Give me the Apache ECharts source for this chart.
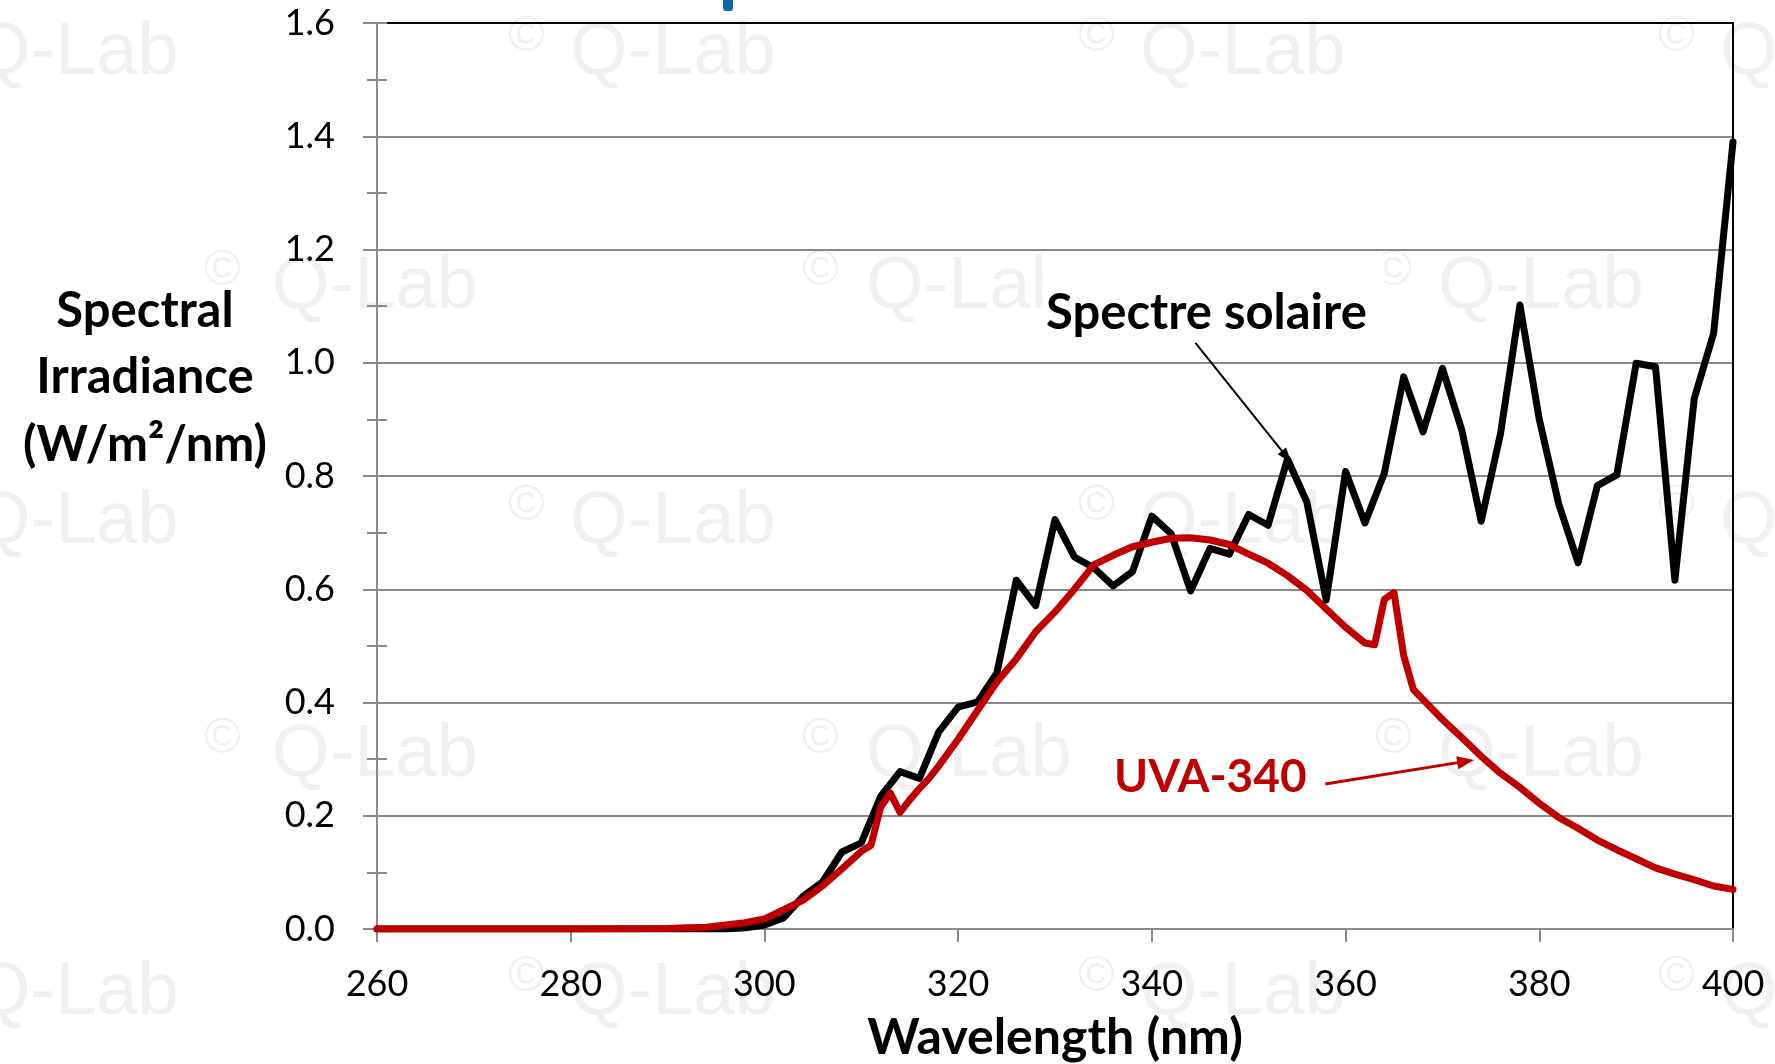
<!DOCTYPE html>
<html>
<head>
<meta charset="utf-8">
<script src="https://cdn.jsdelivr.net/npm/echarts@6/dist/echarts.min.js"></script>
<style>
html,body{margin:0;padding:0;background:#ffffff;}
#chart{width:1775px;height:1064px;}
</style>
</head>
<body>
<div id="chart"></div>
<script>
// ---- Data ----
const solarWavelengths = [260, 270, 280, 290, 294, 296, 298, 300, 302, 304, 306, 308, 310, 312, 314, 316, 318, 320, 322, 324, 326, 328, 330, 332, 334, 336, 338, 340, 342, 344, 346, 348, 350, 352, 354, 356, 358, 360, 362, 364, 366, 368, 370, 372, 374, 376, 378, 380, 382, 384, 386, 388, 390, 392, 394, 396, 398, 400];
const solarIrradiance = [0, 0, 0, 0, 0, 0.000, 0.002, 0.007, 0.020, 0.058, 0.083, 0.136, 0.152, 0.234, 0.278, 0.266, 0.348, 0.392, 0.401, 0.452, 0.616, 0.571, 0.723, 0.657, 0.638, 0.606, 0.631, 0.729, 0.698, 0.597, 0.672, 0.662, 0.732, 0.713, 0.830, 0.754, 0.581, 0.808, 0.717, 0.805, 0.975, 0.878, 0.990, 0.881, 0.720, 0.875, 1.102, 0.900, 0.751, 0.647, 0.783, 0.802, 0.999, 0.993, 0.616, 0.937, 1.052, 1.390];

const uvaWavelengths = [260, 270, 280, 290, 292, 294, 296, 298, 300, 302, 304, 306, 308, 310, 311, 312, 313, 314, 315, 316, 317, 318, 320, 322, 324, 326, 328, 330, 332, 334, 336, 338, 340, 342, 344, 346, 348, 350, 352, 354, 356, 358, 360, 362, 363, 364, 365, 366, 367, 368, 370, 372, 374, 376, 378, 380, 382, 384, 386, 388, 390, 392, 394, 396, 398, 400];
const uvaIrradiance = [0, 0, 0, 0.001, 0.002, 0.003, 0.007, 0.011, 0.018, 0.034, 0.051, 0.076, 0.106, 0.137, 0.148, 0.215, 0.240, 0.206, 0.228, 0.248, 0.266, 0.288, 0.335, 0.386, 0.436, 0.477, 0.525, 0.560, 0.600, 0.643, 0.660, 0.675, 0.683, 0.690, 0.691, 0.687, 0.679, 0.662, 0.646, 0.624, 0.598, 0.565, 0.533, 0.505, 0.502, 0.582, 0.594, 0.483, 0.423, 0.405, 0.370, 0.338, 0.305, 0.275, 0.250, 0.222, 0.197, 0.178, 0.157, 0.140, 0.124, 0.108, 0.097, 0.087, 0.076, 0.070];

const xTickLabels = ['260', '280', '300', '320', '340', '360', '380', '400'];
const yTickLabels = ['0.0', '0.2', '0.4', '0.6', '0.8', '1.0', '1.2', '1.4', '1.6'];

const seriesNames = ['Spectre solaire', 'UVA-340'];
const yTitleLines = ['Spectral', 'Irradiance', '(W/m\u00B2/nm)'];
const xTitle = 'Wavelength (nm)';

// annotation arrows, in data coordinates [wavelength, irradiance]
const solarArrow = [[344.5, 1.035], [353.9, 0.834]];
const uvaArrow = [[357.9, 0.256], [372.4, 0.296]];

// ---- helpers ----
const pair = (xs, ys) => xs.map((x, i) => [x, ys[i]]);
const xMin = Number(xTickLabels[0]), xMax = Number(xTickLabels[xTickLabels.length - 1]);
const xStep = Number(xTickLabels[1]) - xMin;
const yMin = Number(yTickLabels[0]), yMax = Number(yTickLabels[yTickLabels.length - 1]);
const yStep = Number(yTickLabels[1]) - yMin;

const GRAY = '#8a8a8a';
const RED = '#c00000';

// watermark (faint "© Q-Lab" text tiles)
const wmRows = [
  {base: 81, items: [[-90, -27], [508, 570], [1078, 1140], [1658, 1720]]},
  {base: 315, items: [[204, 272], [802, 866], [1375, 1438]]},
  {base: 550, items: [[-90, -27], [508, 570], [1078, 1140], [1658, 1720]]},
  {base: 783, items: [[204, 272], [802, 866], [1375, 1438]]},
  {base: 1021, items: [[-90, -27], [508, 570], [1078, 1140], [1658, 1720]]}
];
const wmElements = [];
wmRows.forEach(r => {
  r.items.forEach(([cx, qx]) => {
    wmElements.push({type: 'text', z: -5, silent: true,
      style: {text: '\u00A9', x: cx, y: r.base - 44, font: '50px "Liberation Sans", Arial, sans-serif', fill: '#f0f0f0', textAlign: 'left', align: 'left', textVerticalAlign: 'middle', verticalAlign: 'middle'}});
    wmElements.push({type: 'text', z: -5, silent: true,
      style: {text: 'Q-Lab', x: qx, y: r.base - 27, font: '74px "Liberation Sans", Arial, sans-serif', fill: '#f0f0f0', textAlign: 'left', align: 'left', textVerticalAlign: 'middle', verticalAlign: 'middle'}});
  });
});

function txt(text, x, y, align, fill, size) {
  return {type: 'text', z: 50, silent: true,
    style: {text: text, x: x, y: y, font: 'bold ' + size + 'px Lato, "Open Sans", sans-serif', fill: fill, textAlign: align, align: align, textVerticalAlign: 'middle', verticalAlign: 'middle'}};
}

const chart = echarts.init(document.getElementById('chart'), null, {renderer: 'canvas'});
chart.setOption({
  backgroundColor: '#ffffff',
  animation: false,
  grid: {left: 377, right: 42, top: 23, bottom: 135, containLabel: false, outerBoundsMode: 'none'},
  xAxis: [
    {
      type: 'value', position: 'bottom', min: xMin, max: xMax, interval: xStep,
      axisLine: {show: true, onZero: false, lineStyle: {color: GRAY, width: 2}},
      axisTick: {show: true, inside: false, length: 13, lineStyle: {color: GRAY, width: 2}},
      axisLabel: {show: true, margin: 37, color: '#000', fontFamily: 'Lato', fontSize: 36,
        formatter: v => xTickLabels[Math.round((v - xMin) / xStep)]},
      splitLine: {show: false},
      name: xTitle, nameLocation: 'middle', nameGap: 84,
      nameTextStyle: {color: '#000', fontFamily: 'Lato', fontWeight: 'bold', fontSize: 50}
    },
    {
      type: 'value', position: 'top', min: xMin, max: xMax,
      axisLine: {show: true, onZero: false, lineStyle: {color: '#000', width: 2}},
      axisTick: {show: false}, axisLabel: {show: false}, splitLine: {show: false}
    }
  ],
  yAxis: [
    {
      type: 'value', position: 'left', min: yMin, max: yMax, interval: yStep,
      axisLine: {show: true, onZero: false, lineStyle: {color: GRAY, width: 2}},
      axisTick: {show: true, inside: false, length: 14, lineStyle: {color: GRAY, width: 2}},
      minorTick: {show: true, splitNumber: 2, length: 10, lineStyle: {color: GRAY, width: 2}},
      axisLabel: {show: true, margin: 42, color: '#000', fontFamily: 'Lato', fontSize: 36,
        formatter: v => yTickLabels[Math.round((v - yMin) / yStep)]},
      splitLine: {show: true, lineStyle: {color: GRAY, width: 2}}
    },
    {
      type: 'value', position: 'left', min: yMin, max: yMax, interval: yStep / 2,
      axisLine: {show: false},
      axisTick: {show: true, inside: true, length: 10, lineStyle: {color: GRAY, width: 2}},
      axisLabel: {show: false}, splitLine: {show: false}
    },
    {
      type: 'value', position: 'right', min: yMin, max: yMax,
      axisLine: {show: true, onZero: false, lineStyle: {color: '#000', width: 2}},
      axisTick: {show: false}, axisLabel: {show: false}, splitLine: {show: false}
    }
  ],
  series: [
    {
      name: seriesNames[0], type: 'line', xAxisIndex: 0, yAxisIndex: 0,
      data: pair(solarWavelengths, solarIrradiance),
      showSymbol: false, symbol: 'none', smooth: false, z: 3,
      lineStyle: {color: '#000', width: 7, join: 'round', cap: 'round'},
      emphasis: {disabled: true},
      markLine: {
        silent: true, symbol: ['none', 'triangle'], symbolSize: [11, 15],
        label: {show: false}, emphasis: {disabled: true},
        lineStyle: {color: '#000', width: 2, type: 'solid'},
        data: [[{coord: solarArrow[0]}, {coord: solarArrow[1]}]]
      }
    },
    {
      name: seriesNames[1], type: 'line', xAxisIndex: 0, yAxisIndex: 0,
      data: pair(uvaWavelengths, uvaIrradiance),
      showSymbol: false, symbol: 'none', smooth: false, z: 4,
      lineStyle: {color: RED, width: 7, join: 'round', cap: 'round'},
      emphasis: {disabled: true},
      markLine: {
        silent: true, symbol: ['none', 'triangle'], symbolSize: [13, 17],
        label: {show: false}, emphasis: {disabled: true},
        lineStyle: {color: RED, width: 3, type: 'solid'},
        data: [[{coord: uvaArrow[0]}, {coord: uvaArrow[1]}]]
      }
    }
  ],
  graphic: {
    elements: wmElements.concat([
      {type: 'rect', z: -4, silent: true, shape: {x: 1043, y: 251, width: 340, height: 110}, style: {fill: '#ffffff'}},
      {type: 'rect', z: 50, silent: true, shape: {x: 723, y: -6, width: 10, height: 17, r: 3}, style: {fill: '#0e67a5'}},
      txt(yTitleLines[0], 145, 311, 'center', '#000', 49),
      txt(yTitleLines[1], 145, 377, 'center', '#000', 49),
      txt(yTitleLines[2], 145, 445, 'center', '#000', 49),
      txt(seriesNames[0], 1046, 313, 'left', '#000', 49),
      txt(seriesNames[1], 1114, 777, 'left', RED, 46)
    ])
  }
});
</script>
</body>
</html>
